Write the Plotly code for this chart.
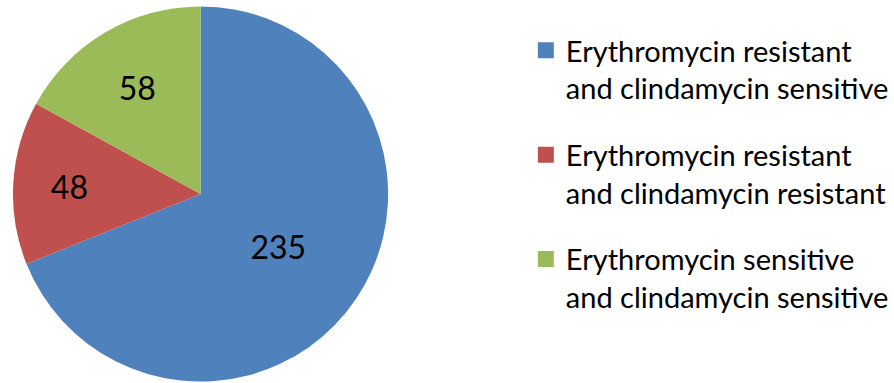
import plotly.graph_objects as go

labels = [
    "Erythromycin resistant<br>and clindamycin sensitive",
    "Erythromycin resistant<br>and clindamycin resistant",
    "Erythromycin sensitive<br>and clindamycin sensitive",
]
values = [235, 48, 58]
colors = ["#4F81BD", "#C0504D", "#9BBB59"]

fig = go.Figure()
fig.add_trace(go.Pie(
    labels=labels,
    values=values,
    sort=False,
    direction="clockwise",
    rotation=0,
    marker=dict(colors=colors, line=dict(width=0)),
    textinfo="value",
    textposition="inside",
    insidetextorientation="horizontal",
    textfont=dict(size=32, color="black", family="Lato"),
    domain=dict(x=[13/894, 389/894], y=[1/383, 377/383]),
    hoverinfo="label+value",
    showlegend=False,
))

# legend entries (square swatches) matching the slices
for i, (lab, col) in enumerate(zip(labels, colors)):
    fig.add_trace(go.Scatter(
        x=[None], y=[None], mode="markers", name=lab,
        marker=dict(symbol="square", size=16, color=col),
        legendgroup=f"g{i}", showlegend=True,
    ))

fig.update_layout(
    width=894, height=383,
    margin=dict(l=0, r=0, t=0, b=0),
    paper_bgcolor="white",
    plot_bgcolor="white",
    font=dict(family="Lato", color="black"),
    xaxis=dict(visible=False),
    yaxis=dict(visible=False),
    legend=dict(
        x=527/894, y=0.935, xanchor="left", yanchor="top",
        valign="top",
        font=dict(size=29, family="Lato", color="black"),
        bgcolor="rgba(0,0,0,0)",
        tracegroupgap=26,
        traceorder="grouped",
    ),
)

fig.write_html(
    "out.html",
    config={"displayModeBar": False},
    post_script="document.body.style.margin='0';document.body.style.padding='0';",
)
